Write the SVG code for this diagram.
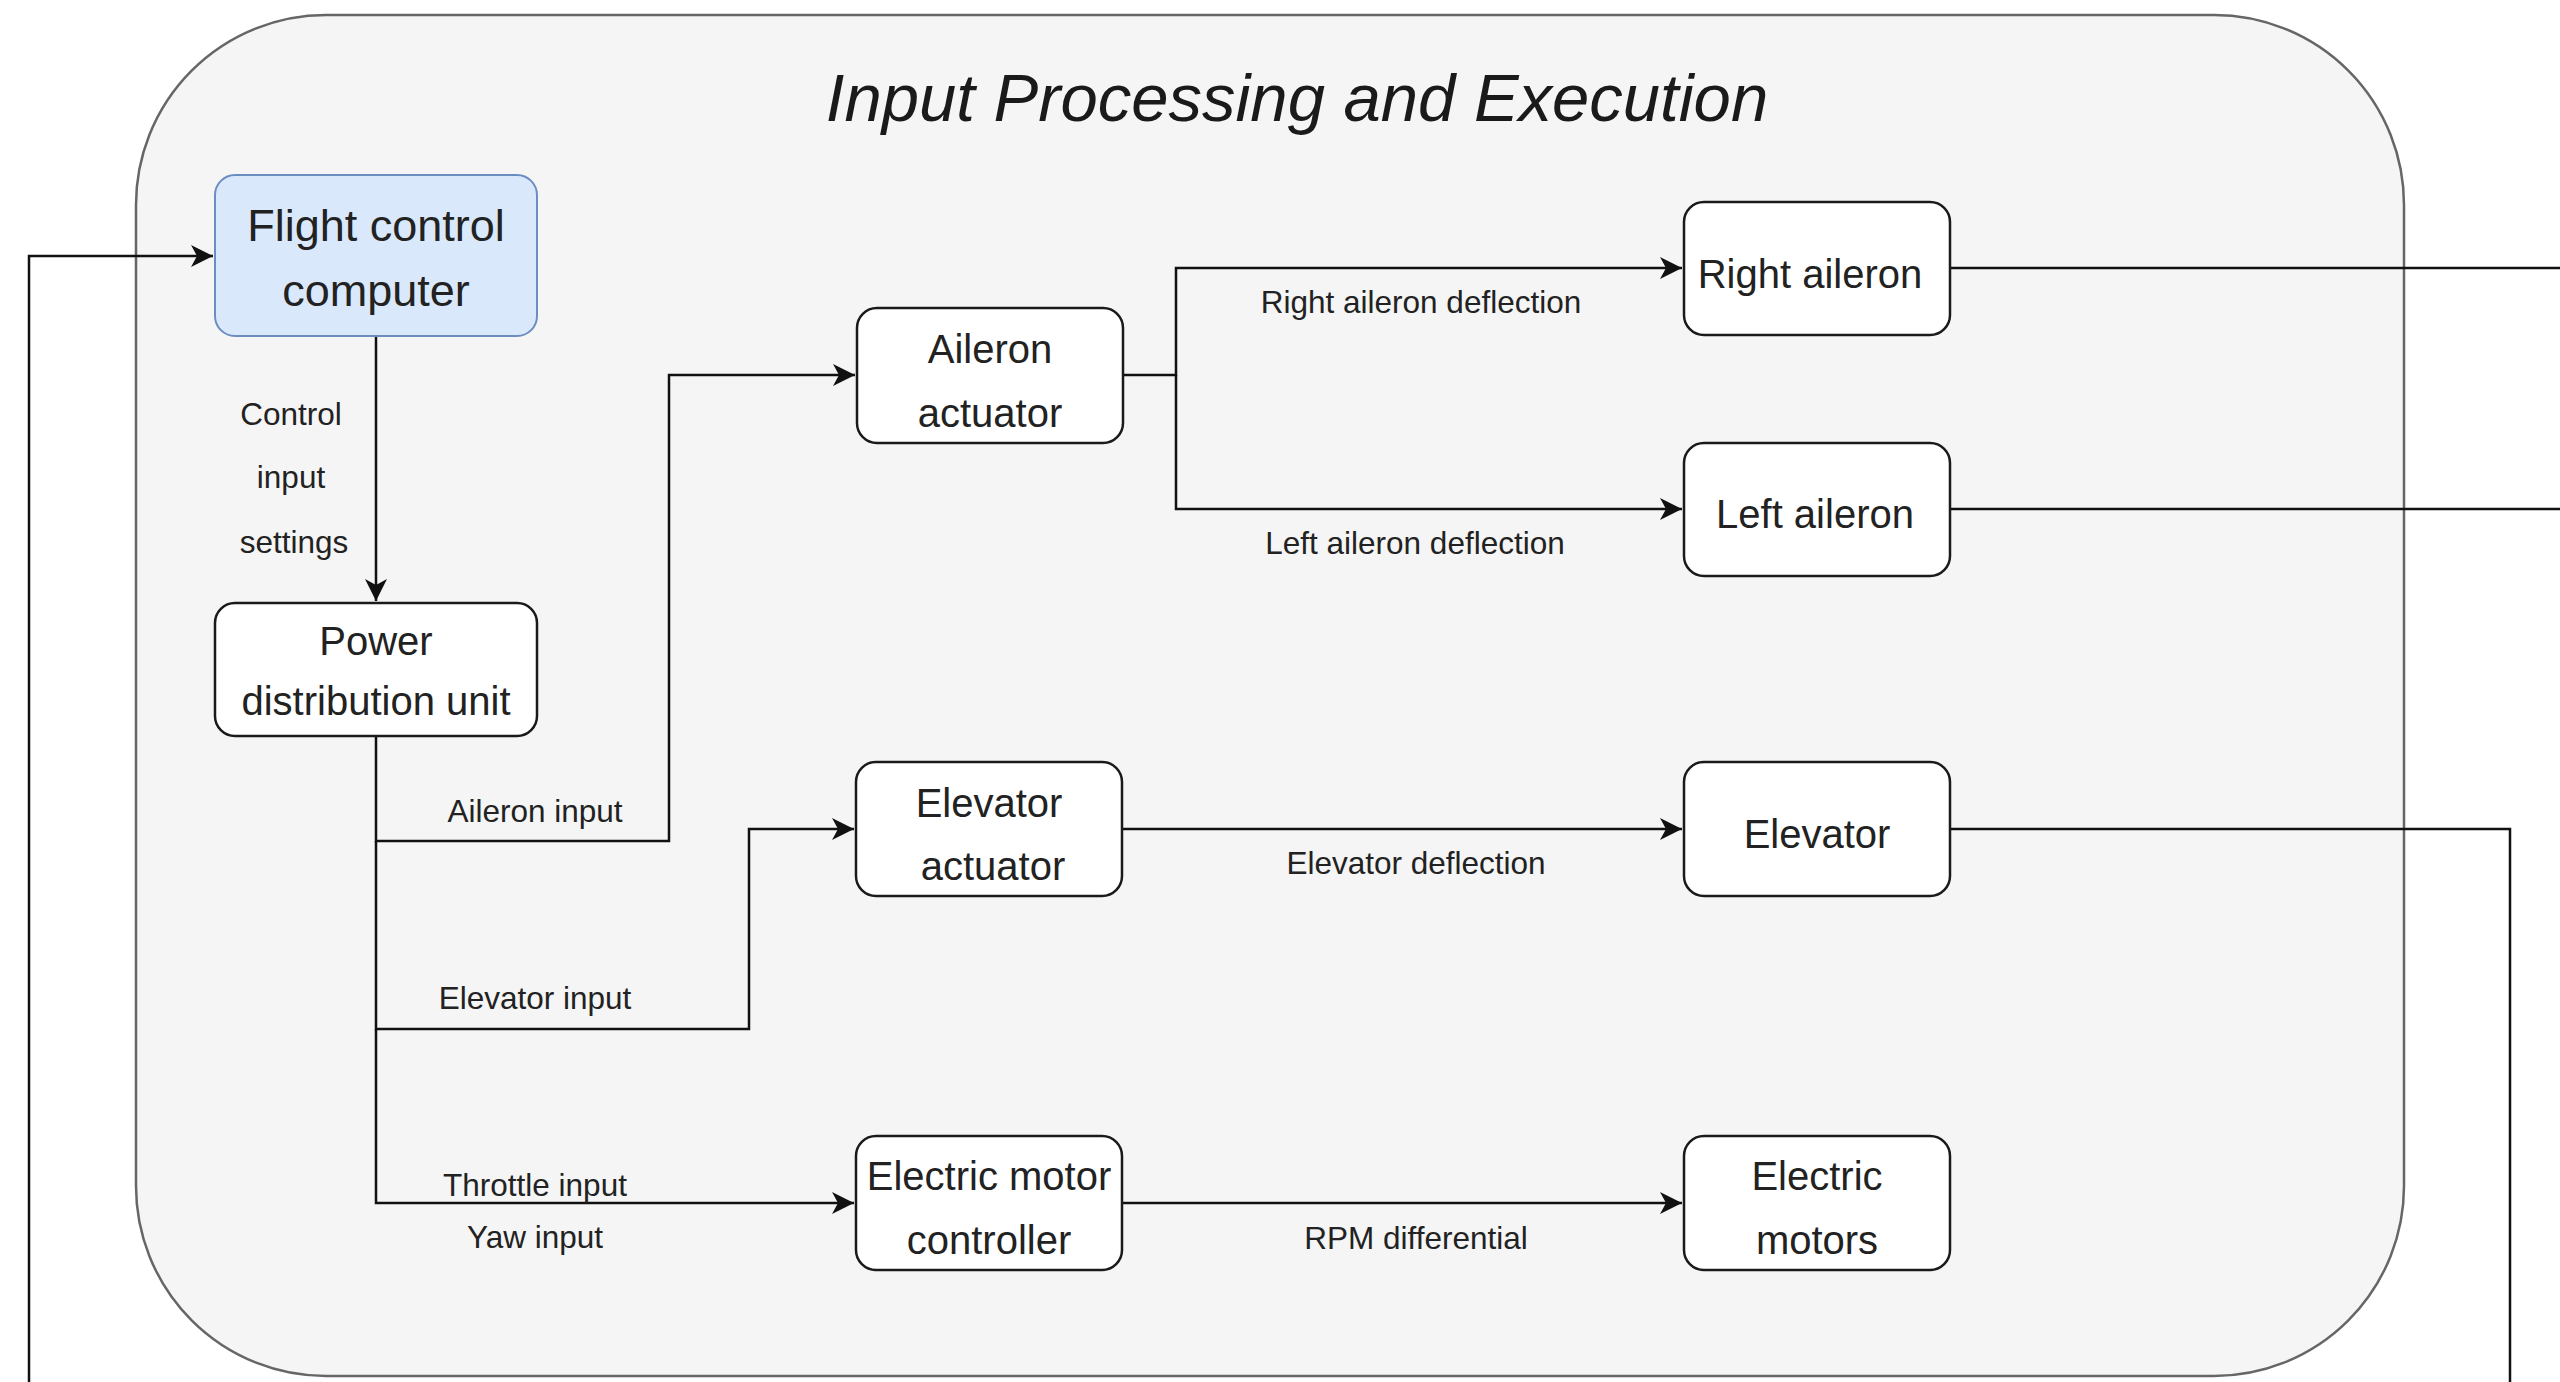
<svg xmlns="http://www.w3.org/2000/svg" width="2560" height="1382" viewBox="0 0 2560 1382">
<style>
.bg{fill:#ffffff}
.container{fill:#f5f5f5;stroke:#666666;stroke-width:2.5}
.title{font-family:"Liberation Sans",Arial,sans-serif;font-style:italic;font-size:67px;fill:#1a1a1a;text-anchor:middle}
.node{fill:#ffffff;stroke:#1a1a1a;stroke-width:2.5}
.fcc{fill:#dae8fc;stroke:#6c8ebf;stroke-width:2}
.nt{font-family:"Liberation Sans",Arial,sans-serif;font-size:40px;fill:#222222;text-anchor:middle}
.ntl{font-family:"Liberation Sans",Arial,sans-serif;font-size:45px;fill:#222222;text-anchor:middle}
.lbl{font-family:"Liberation Sans",Arial,sans-serif;font-size:31.5px;fill:#222222;text-anchor:middle}
.edge{fill:none;stroke:#111111;stroke-width:2.5}
</style>
<defs>
<marker id="arrow" markerUnits="userSpaceOnUse" markerWidth="24" markerHeight="22" refX="22" refY="11" orient="auto">
<path d="M0,0 L22,11 L0,22 L6,11 Z" fill="#111111"/>
</marker>
</defs>
<rect class="bg" x="0" y="0" width="2560" height="1382"/>
<g id="container">
<rect class="container" x="136" y="15" width="2268" height="1361" rx="190" ry="190"/>
<text class="title" x="1297" y="121">Input Processing and Execution</text>
</g>
<g id="connectors">
<path id="e-fcc-pdu" class="edge" d="M376,336 L376,601" marker-end="url(#arrow)"/>
<path id="e-pdu-ail" class="edge" d="M376,736 L376,841 L669,841 L669,375 L855,375" marker-end="url(#arrow)"/>
<path id="e-pdu-elev" class="edge" d="M376,841 L376,1029 L749,1029 L749,829 L854,829" marker-end="url(#arrow)"/>
<path id="e-pdu-emc" class="edge" d="M376,1029 L376,1203 L854,1203" marker-end="url(#arrow)"/>
<path id="e-ail-right" class="edge" d="M1123,375 L1176,375 L1176,268 L1682,268" marker-end="url(#arrow)"/>
<path id="e-ail-left" class="edge" d="M1176,375 L1176,509 L1682,509" marker-end="url(#arrow)"/>
<path id="e-elev" class="edge" d="M1121,829 L1682,829" marker-end="url(#arrow)"/>
<path id="e-emc" class="edge" d="M1121,1203 L1682,1203" marker-end="url(#arrow)"/>
<path id="e-right-out" class="edge" d="M1950,268 L2562,268"/>
<path id="e-left-out" class="edge" d="M1950,509 L2562,509"/>
<path id="e-elev-out" class="edge" d="M1950,829 L2510,829 L2510,1384"/>
<path id="e-feedback" class="edge" d="M29,1384 L29,256 L213,256" marker-end="url(#arrow)"/>
<text class="lbl" x="291" y="425">Control</text>
<text class="lbl" x="291" y="488">input</text>
<text class="lbl" x="294" y="553">settings</text>
<text class="lbl" x="535" y="822">Aileron input</text>
<text class="lbl" x="535" y="1009">Elevator input</text>
<text class="lbl" x="535" y="1196">Throttle input</text>
<text class="lbl" x="535" y="1248">Yaw input</text>
<text class="lbl" x="1421" y="313">Right aileron deflection</text>
<text class="lbl" x="1415" y="554">Left aileron deflection</text>
<text class="lbl" x="1416" y="874">Elevator deflection</text>
<text class="lbl" x="1416" y="1249">RPM differential</text>
</g>
<g id="fcc">
<rect class="fcc" x="215" y="175" width="322" height="161" rx="20"/>
<text class="ntl" x="376" y="241">Flight control</text>
<text class="ntl" x="376" y="306">computer</text>
</g>
<g id="pdu">
<rect class="node" x="215" y="603" width="322" height="133" rx="20"/>
<text class="nt" x="376" y="655">Power</text>
<text class="nt" x="376" y="715">distribution unit</text>
</g>
<g id="aileron-actuator">
<rect class="node" x="857" y="308" width="266" height="135" rx="20"/>
<text class="nt" x="990" y="363">Aileron</text>
<text class="nt" x="990" y="427">actuator</text>
</g>
<g id="elevator-actuator">
<rect class="node" x="856" y="762" width="266" height="134" rx="20"/>
<text class="nt" x="989" y="817">Elevator</text>
<text class="nt" x="993" y="880">actuator</text>
</g>
<g id="emc">
<rect class="node" x="856" y="1136" width="266" height="134" rx="20"/>
<text class="nt" x="989" y="1190">Electric motor</text>
<text class="nt" x="989" y="1254">controller</text>
</g>
<g id="right-aileron">
<rect class="node" x="1684" y="202" width="266" height="133" rx="20"/>
<text class="nt" x="1810" y="288">Right aileron</text>
</g>
<g id="left-aileron">
<rect class="node" x="1684" y="443" width="266" height="133" rx="20"/>
<text class="nt" x="1815" y="528">Left aileron</text>
</g>
<g id="elevator">
<rect class="node" x="1684" y="762" width="266" height="134" rx="20"/>
<text class="nt" x="1817" y="848">Elevator</text>
</g>
<g id="electric-motors">
<rect class="node" x="1684" y="1136" width="266" height="134" rx="20"/>
<text class="nt" x="1817" y="1190">Electric</text>
<text class="nt" x="1817" y="1254">motors</text>
</g>
</svg>
